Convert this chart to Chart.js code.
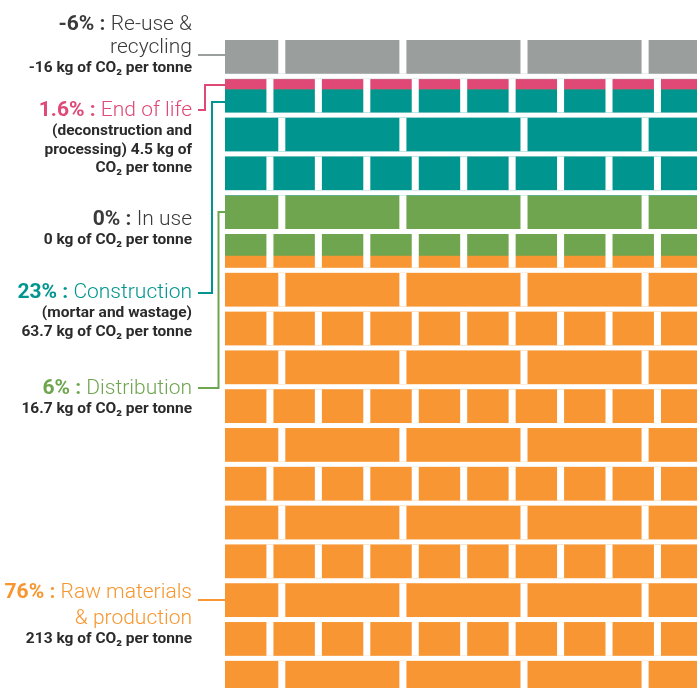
<!DOCTYPE html>
<html>
<head>
<meta charset="utf-8">
<script src="https://cdn.jsdelivr.net/npm/chart.js@4.4.1/dist/chart.umd.min.js"></script>
<style>
  html, body { margin: 0; padding: 0; background: #fff; overflow: hidden; }
  #wall { display: block; }
</style>
</head>
<body>
<canvas id="wall" width="697" height="688"></canvas>
<script>
// ====== Data ======
const stages  = ['Re-use &\nrecycling', 'End of life', 'In use', 'Construction', 'Distribution', 'Raw materials\n& production'];
const shares  = [-6, 1.6, 0, 23, 6, 76];                 // % of life-cycle CO2
const kgPerT  = [-16, 4.5, 0, 63.7, 16.7, 213];          // kg of CO2 per tonne
const notes   = ['', '(deconstruction and processing)', '', '(mortar and wastage)', '', ''];
// thickness of each band on the wall, in brick courses, as drawn (recycling sits on top of the wall)
const courses = [-1, 0.26, 0, 2.74, 1.55, 11.15];

// ====== Styles / layout ======
const fills     = ['#9a9f9e', '#e04876', '#6fa54f', '#00968f', '#6fa54f', '#f89633'];
const inks      = ['#3a3a3a', '#e04876', '#3a3a3a', '#00968f', '#6fa54f', '#f7962f'];
const subInk    = '#2b2b2b';
const FONT      = 'Roboto, "Noto Sans", sans-serif';
const labelRight = 192;
const titleBase  = [30, 116, 225, 298, 394, 598];   // baseline of first title line
const titleStep  = [23, 23, 23, 23, 23, 26];
const subWrap    = [230, 168, 230, 230, 230, 230];
const noteOwnLine = [false, false, false, true, false, false];
const hookY      = [null, 110, null, 293, 388, null]; // label side of the connector
const elbowX     = [null, 205, null, 212, 218.5, null];
const anchorC    = [-0.61, 0.16, null, 0.59, 3.43, 13.43]; // wall side, in courses
const lineFrom   = 198;

// brick pattern (in brick units / courses)
const BRICK = 0.871, JOINT = 0.145, LONG_PITCH = 2.5, LONG_START = 1.245, SPAN = 9.744;

// ====== Bands ======
let acc = 0;
const bands = courses.map(c => {
  if (c < 0) return [c, 0];
  const b = [acc, acc + c];
  acc += c;
  return b;
});
const yMin = Math.min(...bands.map(b => b[0]));
const yMax = acc;

const fmtPct = v => `${v}%`;

// ====== Plugins ======
const mortar = {
  id: 'mortar',
  afterDatasetsDraw(chart) {
    const { ctx, chartArea: a, scales: { y } } = chart;
    const px = v => a.left + v * (a.right - a.left) / SPAN;
    ctx.save();
    ctx.fillStyle = '#fff';
    for (let r = Math.floor(yMin); r < yMax; r++) {
      const top = y.getPixelForValue(r);
      const face = y.getPixelForValue(r + BRICK);
      const bot = y.getPixelForValue(r + 1);
      ctx.fillRect(a.left, face, a.right - a.left, bot - face);
      const long = Math.abs(r % 2) === 1;
      const pitch = long ? LONG_PITCH : 1;
      const start = long ? LONG_START : 1;
      for (let s = start; s < SPAN + 1; s += pitch) {
        const x0 = px(s - JOINT), x1 = px(s);
        ctx.fillRect(x0, top, x1 - x0, face - top);
      }
    }
    ctx.restore();
  }
};

function wrap(ctx, text, width) {
  const out = [];
  text.split('\n').forEach(par => {
    let line = '';
    par.split(' ').forEach(w => {
      const t = line ? line + ' ' + w : w;
      if (line && ctx.measureText(t).width > width) { out.push(line); line = w; }
      else line = t;
    });
    if (line) out.push(line);
  });
  return out;
}

const labels = {
  id: 'labels',
  afterDraw(chart) {
    const { ctx, chartArea: a, scales: { y } } = chart;
    ctx.save();
    ctx.textAlign = 'right';
    ctx.textBaseline = 'alphabetic';
    stages.forEach((name, i) => {
      // title
      let base = titleBase[i];
      name.split('\n').forEach((ln, k) => {
        ctx.fillStyle = inks[i];
        ctx.font = `300 21px ${FONT}`;
        ctx.fillText(ln, labelRight, base);
        if (k === 0) {
          const w = ctx.measureText(ln).width;
          ctx.font = `700 21px ${FONT}`;
          ctx.fillText(`${fmtPct(shares[i])} : `, labelRight - w, base);
        }
        base += titleStep[i];
      });
      base = base - titleStep[i] + 19.3;
      // sub text
      ctx.font = `700 15.5px ${FONT}`;
      ctx.fillStyle = subInk;
      const kg = `${kgPerT[i]} kg of CO₂ per tonne`;
      const txt = notes[i] ? notes[i] + (noteOwnLine[i] ? '\n' : ' ') + kg : kg;
      wrap(ctx, txt, subWrap[i]).forEach(ln => {
        ctx.fillText(ln, labelRight, base);
        base += 18.3;
      });
      // connector
      if (anchorC[i] == null) return;
      const wy = Math.round(y.getPixelForValue(anchorC[i]));
      ctx.strokeStyle = fills[i];
      ctx.lineWidth = 2;
      ctx.beginPath();
      if (elbowX[i] == null) {
        ctx.moveTo(lineFrom, wy);
      } else {
        ctx.moveTo(lineFrom, hookY[i]);
        ctx.lineTo(elbowX[i], hookY[i]);
        ctx.lineTo(elbowX[i], wy);
      }
      ctx.lineTo(a.left, wy);
      ctx.stroke();
    });
    ctx.restore();
  }
};

// ====== Chart ======
new Chart(document.getElementById('wall'), {
  type: 'bar',
  data: {
    labels: ['wall'],
    datasets: stages.map((s, i) => ({
      label: s.replace('\n', ' '),
      data: [bands[i]],
      backgroundColor: fills[i],
      borderWidth: 0,
      grouped: false,
      categoryPercentage: 1,
      barPercentage: 1
    }))
  },
  options: {
    responsive: false,
    animation: false,
    events: [],
    devicePixelRatio: 1,
    layout: { padding: { left: 225, top: 40, right: 0, bottom: 0 } },
    plugins: { legend: { display: false }, tooltip: { enabled: false } },
    scales: {
      x: { display: false },
      y: { display: false, reverse: true, min: yMin, max: yMax }
    }
  },
  plugins: [mortar, labels]
});
</script>
</body>
</html>
